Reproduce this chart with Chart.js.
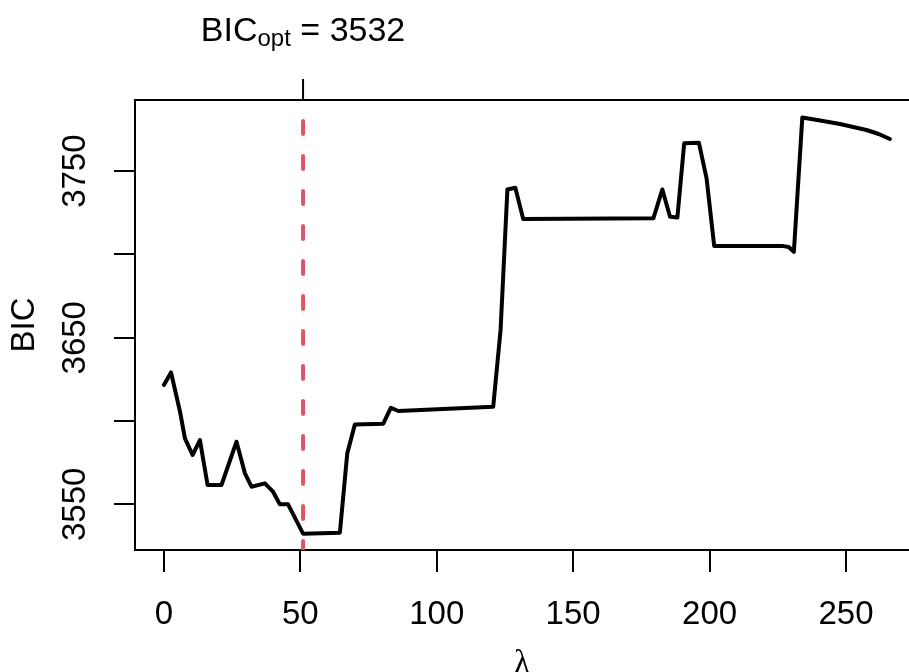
<!DOCTYPE html>
<html>
<head>
<meta charset="utf-8">
<title>BIC vs lambda</title>
<script src="https://cdn.jsdelivr.net/npm/chart.js@4.4.1/dist/chart.umd.min.js"></script>
<style>
  html, body { margin: 0; padding: 0; background: #fff; }
  #wrap { width: 909px; height: 672px; }
</style>
</head>
<body>
<div id="wrap"><canvas id="bicChart" width="909" height="672"></canvas></div>
<script>
// valeurs
const lambdaVals = [0, 2.6, 5.9, 7.7, 10.5, 13.2, 16, 21.1, 26.6, 29.7, 32.1, 37, 40, 42.5, 45.5, 51,
  64.5, 67.2, 70, 80.4, 83.2, 85.9, 120.7, 123.4, 125.9, 128.8, 131.7, 179.4, 182.7, 185.5, 188.2,
  190.7, 196.1, 198.9, 201.7, 227, 229, 230.9, 234, 240, 247.8, 257.5, 262, 266.1];
const bicVals = [3621.6, 3629.2, 3605.6, 3589.6, 3579.6, 3588.6, 3561.6, 3561.6, 3587.6, 3568.6, 3560.6, 3562.6, 3557.6, 3550, 3550, 3532.4,
  3533, 3580.6, 3598, 3598.4, 3608, 3606, 3608.6, 3654.7, 3739, 3740, 3721.2, 3721.7, 3739, 3722.6, 3722.2,
  3766.7, 3767, 3745.7, 3705, 3705, 3704.5, 3701.6, 3782.2, 3780.5, 3778.3, 3774.7, 3772.3, 3769.3];

const lambdaOpt = 51;
const bicOptLabel = '3532';

const xTicks = [0, 50, 100, 150, 200, 250];
const yTicks = [3550, 3600, 3650, 3700, 3750];
const yTickLabels = ['3550', '', '3650', '', '3750'];

const X_MIN = -10.6, X_MAX = 273.1;
const Y_MIN = 3522.6, Y_MAX = 3792.7;

const FONT = '"Liberation Sans", Arial, Helvetica, sans-serif';

// cadre du haut, graduation du haut, étiquettes de l'axe y
const extras = {
  id: 'extras',
  afterDraw(chart) {
    const ctx = chart.ctx;
    const area = chart.chartArea;
    const xs = chart.scales.x;
    const ys = chart.scales.y;
    ctx.save();
    ctx.strokeStyle = '#000';
    ctx.lineWidth = 2;
    ctx.beginPath();
    ctx.moveTo(area.left, area.top);
    ctx.lineTo(area.right, area.top);
    ctx.stroke();

    const px = xs.getPixelForValue(lambdaOpt);
    ctx.beginPath();
    ctx.moveTo(px, area.top);
    ctx.lineTo(px, area.top - 21);
    ctx.stroke();

    ctx.fillStyle = '#000';
    ctx.font = '33px ' + FONT;
    ctx.textAlign = 'center';
    ctx.textBaseline = 'alphabetic';
    yTicks.forEach(function(v, i) {
      if (!yTickLabels[i]) return;
      const py = ys.getPixelForValue(v);
      ctx.save();
      ctx.translate(85, py);
      ctx.rotate(-Math.PI / 2);
      ctx.fillText(yTickLabels[i], 0, 0);
      ctx.restore();
    });

    // BIC_opt = 3532
    ctx.textAlign = 'left';
    ctx.font = '34px ' + FONT;
    const wMain = ctx.measureText('BIC').width;
    const wRest = ctx.measureText(' = ' + bicOptLabel).width;
    ctx.font = '24px ' + FONT;
    const wSub = ctx.measureText('opt').width;
    let x0 = px - (wMain + wSub + wRest) / 2;
    ctx.font = '34px ' + FONT;
    ctx.fillText('BIC', x0, 41);
    ctx.font = '24px ' + FONT;
    ctx.fillText('opt', x0 + wMain, 46);
    ctx.font = '34px ' + FONT;
    ctx.fillText(' = ' + bicOptLabel, x0 + wMain + wSub, 41);
    ctx.restore();
  }
};

const ctx = document.getElementById('bicChart').getContext('2d');
new Chart(ctx, {
  type: 'line',
  data: {
    datasets: [{
      label: 'lambda opt',
      data: [{ x: lambdaOpt, y: Y_MAX }, { x: lambdaOpt, y: Y_MIN }],
      borderColor: '#DF536B',
      borderWidth: 4,
      borderDash: [13, 22],
      borderDashOffset: 14,
      borderCapStyle: 'round',
      pointRadius: 0,
      order: 0
    }, {
      label: 'BIC',
      data: lambdaVals.map((l, i) => ({ x: l, y: bicVals[i] })),
      borderColor: '#000',
      borderWidth: 4,
      borderJoinStyle: 'round',
      borderCapStyle: 'round',
      pointRadius: 0,
      tension: 0,
      order: 1
    }]
  },
  options: {
    responsive: false,
    animation: false,
    events: [],
    layout: { padding: { top: 100, left: 0, right: 0, bottom: 0 } },
    plugins: {
      legend: { display: false },
      tooltip: { enabled: false }
    },
    scales: {
      x: {
        type: 'linear',
        min: X_MIN,
        max: X_MAX,
        afterBuildTicks: function(scale) {
          scale.ticks = xTicks.map(v => ({ value: v }));
        },
        afterFit: function(scale) { scale.height = 122; },
        grid: { drawOnChartArea: false, drawTicks: true, tickLength: 22, color: '#000', lineWidth: 2 },
        border: { display: true, color: '#000', width: 2 },
        ticks: {
          color: '#000',
          font: { family: FONT, size: 33 },
          padding: 23,
          maxRotation: 0,
          autoSkip: false,
          callback: v => String(v)
        },
        title: {
          display: true,
          text: 'λ',
          color: '#000',
          font: { family: '"Liberation Serif", "DejaVu Serif", serif', size: 33 },
          padding: { top: 0, bottom: -12 }
        }
      },
      y: {
        type: 'linear',
        min: Y_MIN,
        max: Y_MAX,
        afterBuildTicks: function(scale) {
          scale.ticks = yTicks.map(v => ({ value: v }));
        },
        afterFit: function(scale) { scale.width = 135; },
        grid: { drawOnChartArea: false, drawTicks: true, tickLength: 21, color: '#000', lineWidth: 2 },
        border: { display: true, color: '#000', width: 2 },
        ticks: { display: false },
        title: {
          display: true,
          text: 'BIC',
          color: '#000',
          font: { family: FONT, size: 33 },
          padding: { top: 5, bottom: 0 }
        }
      }
    }
  },
  plugins: [extras]
});
</script>
</body>
</html>
